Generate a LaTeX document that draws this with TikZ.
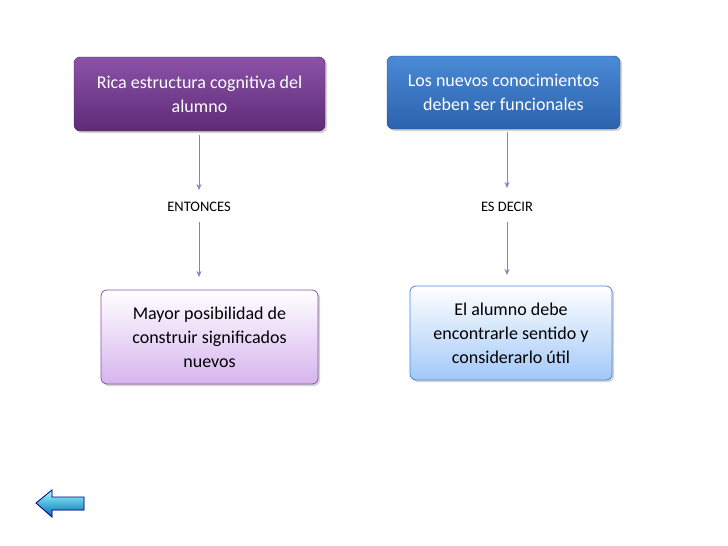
\documentclass[tikz,border=0pt]{standalone}
\usepackage{fontspec}
\setmainfont{Carlito}
\usetikzlibrary{arrows.meta,shadows}
\definecolor{pa}{HTML}{8C52A8}\definecolor{pb}{HTML}{5E2C77}
\definecolor{ba}{HTML}{4A8AD6}\definecolor{bb}{HTML}{2C62AC}
\definecolor{la}{HTML}{D6B4EE}\definecolor{lb}{HTML}{A2C8F8}
\begin{document}
\begin{tikzpicture}[x=1pt,y=-1pt,
 box/.style={rounded corners=6pt,align=center,drop shadow={opacity=0.35,shadow xshift=2pt,shadow yshift=-2pt}},
 arr/.style={-{Stealth[length=6pt,width=5pt]},draw=blue!40!gray!70,line width=0.6pt},
 lbl/.style={font=\fontsize{14.5}{17}\selectfont}]
\useasboundingbox (0,0) rectangle (728,546);
\node[box,minimum width=251,minimum height=74,top color=pa,bottom color=pb,draw=pb!80!black,text=white,font=\fontsize{18}{24}\selectfont] (a) at (199.5,94) {Rica estructura cognitiva del\\alumno};
\node[box,minimum width=233,minimum height=73,top color=ba,bottom color=bb,draw=bb!80!black,text=white,font=\fontsize{18}{24}\selectfont] (b) at (503.5,92.5) {Los nuevos conocimientos\\deben ser funcionales};
\node[box,minimum width=217,minimum height=94,top color=white,bottom color=la,draw=pa,line width=0.8pt,font=\fontsize{18}{24}\selectfont] (c) at (209.5,337) {Mayor posibilidad de\\construir significados\\nuevos};
\node[box,minimum width=202,minimum height=94,top color=white,bottom color=lb,draw=ba,line width=0.8pt,font=\fontsize{18}{24}\selectfont] (d) at (511,333) {El alumno debe\\encontrarle sentido y\\considerarlo útil};
\node[lbl] (e) at (199,207) {ENTONCES};
\node[lbl] (f) at (507,207) {ES DECIR};
\coordinate (a1) at (199,135); \coordinate (a2) at (199,190);
\coordinate (a3) at (199,222); \coordinate (a4) at (199,277);
\coordinate (b1) at (507,132); \coordinate (b2) at (507,188);
\coordinate (b3) at (507,222); \coordinate (b4) at (507,275);
\draw[arr] (a1)--(a2); \draw[arr] (a3)--(a4);
\draw[arr] (b1)--(b2); \draw[arr] (b3)--(b4);
\fill[top color=cyan!40,bottom color=cyan!60!blue!70!black,draw=blue!50!black,line width=0.8pt]
 (36,503)--(52,490)--(52,497)--(84,497)--(84,510)--(52,510)--(52,517)--cycle;
\end{tikzpicture}
\end{document}
